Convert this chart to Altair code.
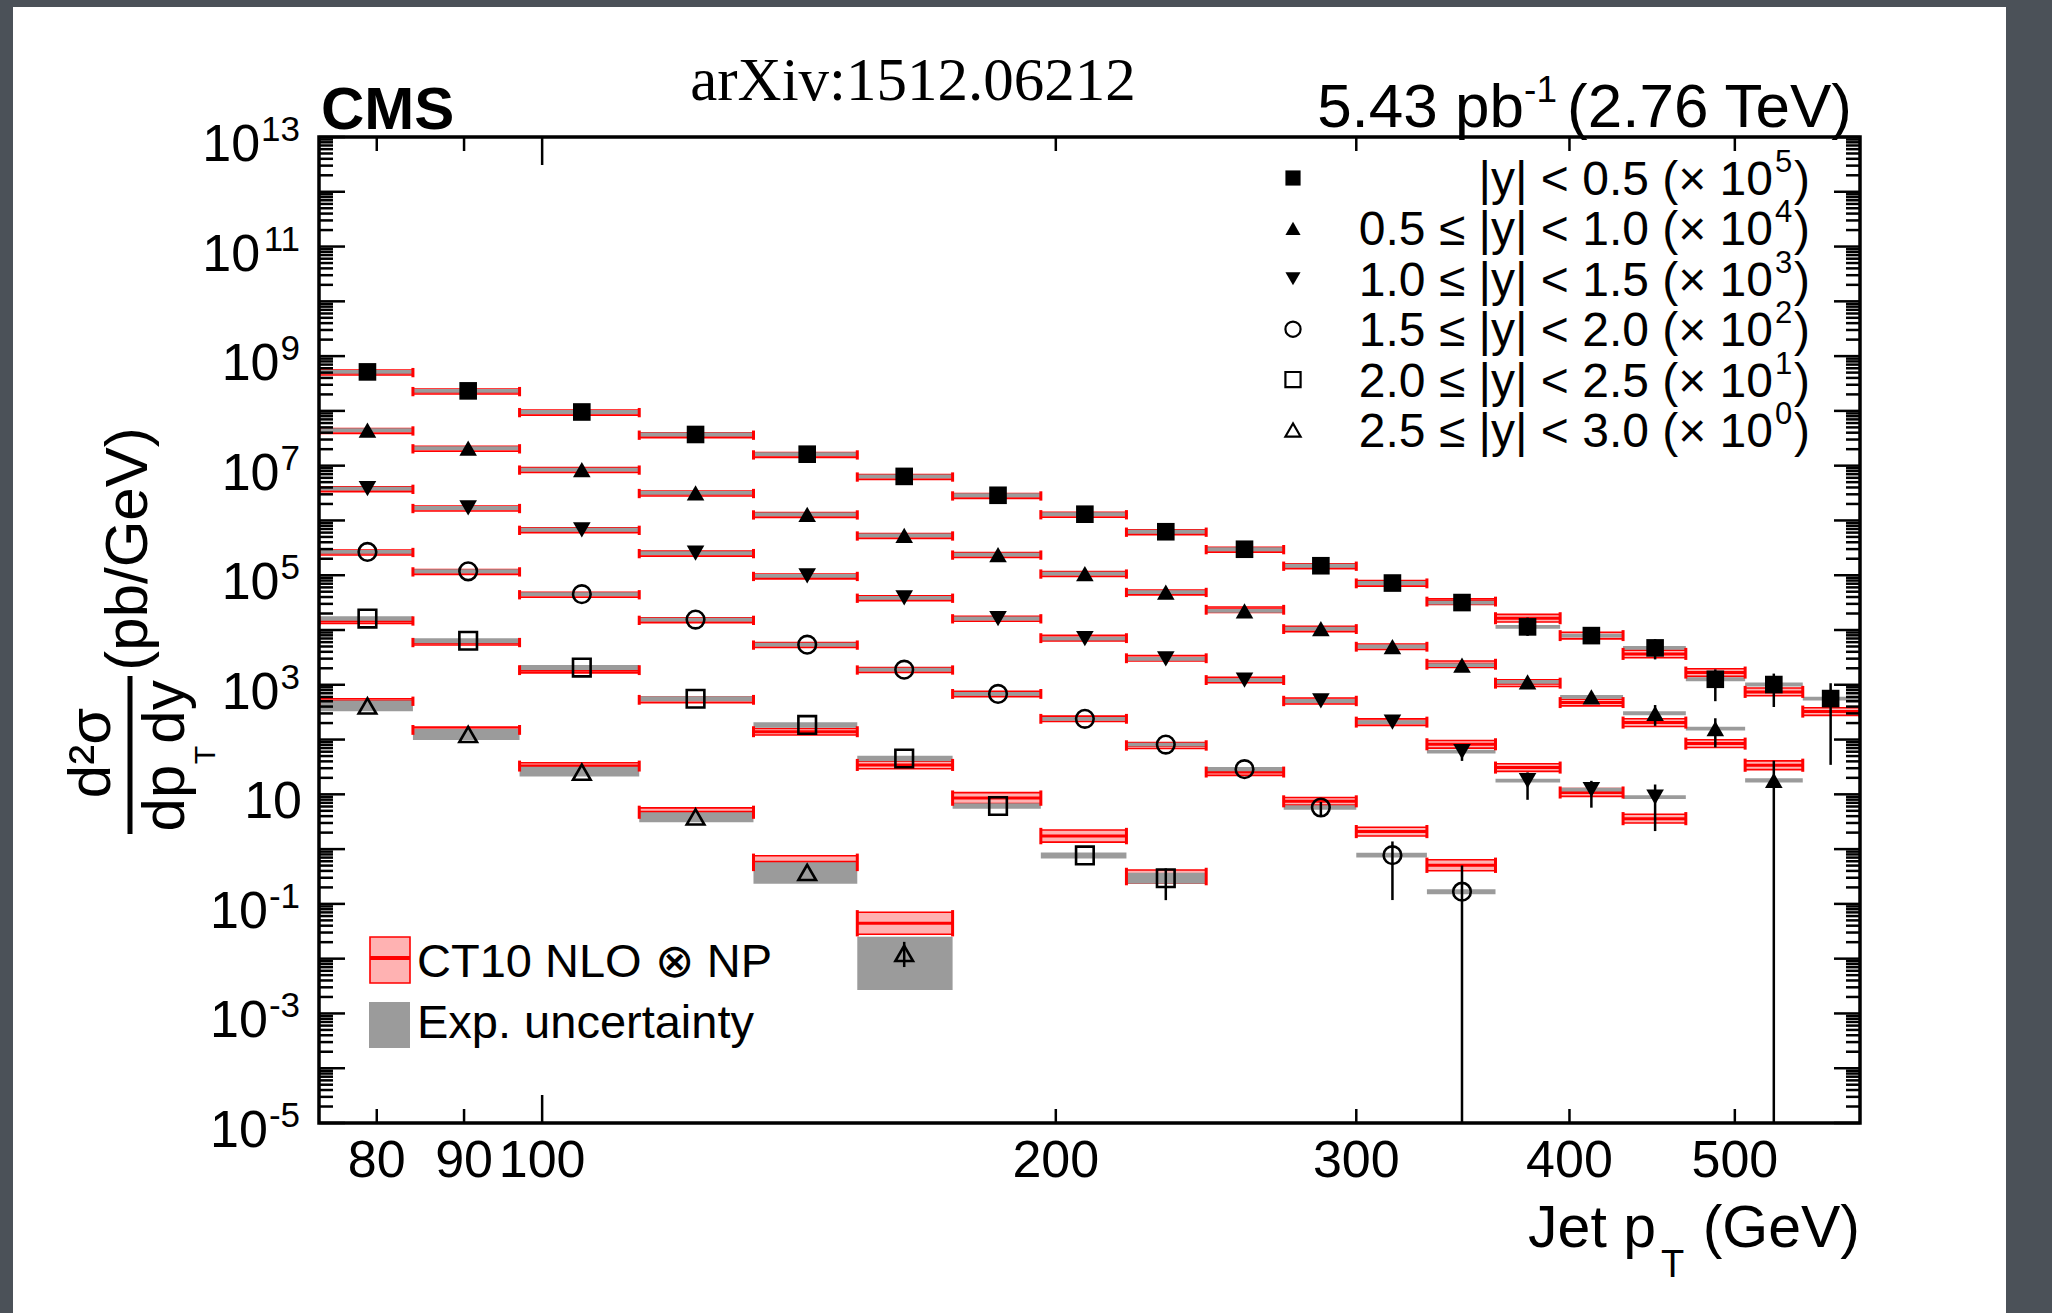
import altair as alt
import pandas as pd

# ---------------- data ----------------
EDGES = [74, 84, 97, 114, 133, 153, 174, 196, 220, 245, 272, 300, 330, 362, 395, 430, 468, 507, 548, 592]
CENTERS = [79, 90.5, 105.5, 123, 143, 163, 185, 208, 232, 258, 286, 315, 346, 378, 412, 449, 487, 527, 569]

LEG_TEXT = ["|y| < 0.5 (× 10", "0.5 ≤ |y| < 1.0 (× 10", "1.0 ≤ |y| < 1.5 (× 10",
            "1.5 ≤ |y| < 2.0 (× 10", "2.0 ≤ |y| < 2.5 (× 10", "2.5 ≤ |y| < 3.0 (× 10"]
LEG_EXP = ["5", "4", "3", "2", "1", "0"]
SHAPES = ["square", "triangle-up", "triangle-down", "circle", "square", "triangle-up"]
FILLED = [True, True, True, False, False, False]

N = None
VALUES = [
    [5.15e8, 2.32e8, 9.55e7, 3.71e7, 1.62e7, 6.37e6, 2.88e6, 1.30e6, 6.22e5, 2.98e5, 1.49e5, 7.2e4, 3.17e4, 1.14e4, 7.9e3, 4.71e3, 1.26e3, 1.01e3, 560],
    [4.44e7, 2.09e7, 8.47e6, 3.18e6, 1.29e6, 5.35e5, 2.38e5, 1.07e5, 4.92e4, 2.24e4, 1.06e4, 4.99e3, 2.28e3, 1.13e3, 603, 302, 158, 18.0, N],
    [3.82e6, 1.69e6, 6.76e5, 2.54e5, 9.7e4, 3.87e4, 1.62e4, 6.98e3, 2.97e3, 1.22e3, 506, 208, 60.3, 17.8, 12.2, 8.9, N, N, N],
    [2.66e5, 1.18e5, 4.51e4, 1.55e4, 5.4e3, 1.89e3, 682, 239, 80.9, 28.8, 5.75, 0.776, 0.167, N, N, N, N, N, N],
    [1.62e4, 6.37e3, 2.06e3, 556, 185, 45.1, 6.12, 0.767, 0.294, N, N, N, N, N, N, N, N, N, N],
    [411, 124, 25.4, 3.87, 0.376, 0.0125, N, N, N, N, N, N, N, N, N, N, N, N, N],
]
THEORY = [
    [5.0e8, 2.25e8, 9.3e7, 3.6e7, 1.57e7, 6.2e6, 2.8e6, 1.27e6, 6.1e5, 2.93e5, 1.46e5, 7.1e4, 3.3e4, 1.64e4, 7.9e3, 3.66e3, 1.67e3, 741, 324],
    [4.3e7, 2.03e7, 8.3e6, 3.1e6, 1.26e6, 5.2e5, 2.33e5, 1.05e5, 4.85e4, 2.34e4, 1.04e4, 4.95e3, 2.37e3, 1.07e3, 473, 204, 84.3, 34, N],
    [3.7e6, 1.65e6, 6.6e5, 2.48e5, 9.5e4, 3.8e4, 1.6e4, 7.1e3, 3.05e3, 1.22e3, 506, 208, 82, 30.8, 10.8, 3.6, N, N, N],
    [2.6e5, 1.15e5, 4.4e4, 1.5e4, 5.3e3, 1.86e3, 680, 239, 78, 25.5, 7.45, 2.09, 0.507, N, N, N, N, N, N],
    [1.46e4, 5.9e3, 1.85e3, 531, 139, 34.4, 8.53, 1.73, 0.316, N, N, N, N, N, N, N, N, N, N],
    [500, 150, 32.8, 4.71, 0.573, 0.0443, N, N, N, N, N, N, N, N, N, N, N, N, N],
]
# experimental uncertainty band, in decades above / below the data point
EXP_UP = [
    [0.035, 0.035, 0.035, 0.035, 0.035, 0.035, 0.035, 0.035, 0.035, 0.035, 0.035, 0.035, 0.035, 0.035, 0.035, 0.035, 0.035, 0.035, 0.035],
    [0.035, 0.035, 0.035, 0.035, 0.035, 0.035, 0.035, 0.035, 0.035, 0.035, 0.035, 0.035, 0.035, 0.035, 0.035, 0.035, 0.035, 0.04, N],
    [0.035, 0.035, 0.035, 0.035, 0.035, 0.035, 0.035, 0.035, 0.035, 0.035, 0.035, 0.035, 0.035, 0.035, 0.035, 0.035, N, N, N],
    [0.035, 0.035, 0.035, 0.035, 0.035, 0.035, 0.035, 0.035, 0.035, 0.04, 0.04, 0.045, 0.045, N, N, N, N, N, N],
    [0.04, 0.045, 0.045, 0.045, 0.05, 0.05, 0.05, 0.055, 0.1, N, N, N, N, N, N, N, N, N, N],
    [0.098, 0.098, 0.098, 0.085, 0.183, 0.304, N, N, N, N, N, N, N, N, N, N, N, N, N],
]
EXP_DN = [
    [0.035, 0.035, 0.035, 0.035, 0.035, 0.035, 0.035, 0.035, 0.035, 0.035, 0.035, 0.035, 0.035, 0.035, 0.035, 0.035, 0.035, 0.035, 0.035],
    [0.035, 0.035, 0.035, 0.035, 0.035, 0.035, 0.035, 0.035, 0.035, 0.035, 0.035, 0.035, 0.035, 0.035, 0.035, 0.035, 0.035, 0.04, N],
    [0.035, 0.035, 0.035, 0.035, 0.035, 0.035, 0.035, 0.035, 0.035, 0.035, 0.035, 0.035, 0.035, 0.035, 0.035, 0.035, N, N, N],
    [0.035, 0.035, 0.035, 0.035, 0.035, 0.035, 0.035, 0.035, 0.035, 0.04, 0.04, 0.045, 0.045, N, N, N, N, N, N],
    [0.04, 0.045, 0.045, 0.045, 0.05, 0.05, 0.05, 0.055, 0.1, N, N, N, N, N, N, N, N, N, N],
    [0.098, 0.102, 0.078, 0.098, 0.209, 0.669, N, N, N, N, N, N, N, N, N, N, N, N, N],
]
# theory (CT10 NLO x NP) band half width, in decades
TH_HW = [
    [0.045, 0.045, 0.045, 0.045, 0.045, 0.045, 0.045, 0.045, 0.045, 0.045, 0.045, 0.05, 0.05, 0.07, 0.06, 0.07, 0.07, 0.07, 0.07],
    [0.045, 0.045, 0.045, 0.045, 0.045, 0.045, 0.045, 0.045, 0.045, 0.05, 0.05, 0.05, 0.06, 0.06, 0.06, 0.07, 0.07, 0.08, N],
    [0.045, 0.045, 0.045, 0.045, 0.045, 0.045, 0.045, 0.05, 0.05, 0.05, 0.055, 0.06, 0.07, 0.07, 0.07, 0.08, N, N, N],
    [0.045, 0.045, 0.045, 0.045, 0.045, 0.045, 0.05, 0.05, 0.055, 0.06, 0.07, 0.08, 0.1, N, N, N, N, N, N],
    [0.045, 0.045, 0.05, 0.05, 0.06, 0.07, 0.1, 0.11, 0.12, N, N, N, N, N, N, N, N, N, N],
    [0.045, 0.05, 0.06, 0.08, 0.12, 0.2, N, N, N, N, N, N, N, N, N, N, N, N, N],
]
# statistical error bars, in decades above / below the point
STAT_UP = [
    [0, 0, 0, 0, 0, 0, 0, 0, 0, 0, 0, 0, 0, 0.17, 0.1, 0.16, 0.18, 0.2, 0.28],
    [0, 0, 0, 0, 0, 0, 0, 0, 0, 0, 0, 0, 0, 0, 0, 0.15, 0.19, 0.36, N],
    [0, 0, 0, 0, 0, 0, 0, 0, 0, 0, 0, 0, 0.12, 0.15, 0.16, 0.23, N, N, N],
    [0, 0, 0, 0, 0, 0, 0, 0, 0, 0, 0.1, 0.25, 0.48, N, N, N, N, N, N],
    [0, 0, 0, 0, 0, 0, 0, 0, 0.18, N, N, N, N, N, N, N, N, N, N],
    [0, 0, 0, 0, 0, 0.21, N, N, N, N, N, N, N, N, N, N, N, N, N],
]
STAT_DN = [
    [0, 0, 0, 0, 0, 0, 0, 0, 0, 0, 0, 0, 0, 0.165, 0.1, 0.21, 0.4, 0.41, 1.21],
    [0, 0, 0, 0, 0, 0, 0, 0, 0, 0, 0, 0, 0, 0, 0, 0.23, 0.34, 9, N],
    [0, 0, 0, 0, 0, 0, 0, 0, 0, 0, 0, 0, 0.17, 0.35, 0.33, 0.62, N, N, N],
    [0, 0, 0, 0, 0, 0, 0, 0, 0, 0, 0.15, 0.82, 9, N, N, N, N, N, N],
    [0, 0, 0, 0, 0, 0, 0, 0, 0.4, N, N, N, N, N, N, N, N, N, N],
    [0, 0, 0, 0, 0, 0.25, N, N, N, N, N, N, N, N, N, N, N, N, N],
]

X_TICK_LABELS = [80, 90, 100, 200, 300, 400, 500]
X_MAJOR = [100]
X_MINOR = [80, 90, 200, 300, 400, 500]
Y_LABEL_VALUES = [1e13, 1e11, 1e9, 1e7, 1e5, 1e3, 1e1, 1e-1, 1e-3, 1e-5]
Y_LABEL_EXPS = ["13", "11", "9", "7", "5", "3", "", "-1", "-3", "-5"]
Y_MAJOR = [10.0 ** d for d in range(-5, 14)]
Y_MINOR = [k * 10.0 ** d for d in range(-5, 13) for k in range(2, 10)]

# ---------------- layout ----------------
W, H = 1541, 986
FONT = "Liberation Sans"
RED = "#ff0000"
GRAY = "#9b9b9b"
ONE = pd.DataFrame({"a": [0]})

rows = []
for s in range(6):
    for b in range(19):
        v = VALUES[s][b]
        if v is None:
            continue
        t = THEORY[s][b]
        hw = TH_HW[s][b]
        su, sd = STAT_UP[s][b], STAT_DN[s][b]
        rows.append(dict(
            s=s, lo=EDGES[b], hi=EDGES[b + 1], c=CENTERS[b], val=v, theo=t,
            th_lo=t / 10 ** hw, th_hi=t * 10 ** hw,
            cap_lo=t / 10 ** (hw + 0.04), cap_hi=t * 10 ** (hw + 0.04),
            ex_lo=v / 10 ** EXP_DN[s][b], ex_hi=v * 10 ** EXP_UP[s][b],
            st_lo=v / 10 ** sd, st_hi=v * 10 ** su, stat=(su > 0 or sd > 0)))
df = pd.DataFrame(rows)

xs = alt.Scale(type="log", domain=[74, 592], nice=False)
ys = alt.Scale(type="log", domain=[1e-5, 1e13], nice=False)


def X(f):
    return alt.X(f, type="quantitative", scale=xs, axis=None)


def Y(f):
    return alt.Y(f, type="quantitative", scale=ys, axis=None)


def txt(t, x, y, size, align="left", baseline="alphabetic", font=FONT, weight="normal", angle=0):
    return alt.Chart(ONE).mark_text(text=t, fontSize=size, align=align, baseline=baseline,
                                    font=font, fontWeight=weight, angle=angle, color="black").encode(
        x=alt.value(x), y=alt.value(y))


layers = []
# white page on dark slide
layers.append(alt.Chart(ONE).mark_rect(color="white").encode(
    x=alt.value(-306), x2=alt.value(1687), y=alt.value(-130), y2=alt.value(1200)))

base = alt.Chart(df)
layers.append(base.mark_rect(fill=RED, fillOpacity=0.3, stroke=RED, strokeWidth=1.6, clip=True).encode(
    x=X("lo"), x2="hi", y=Y("th_lo"), y2="th_hi"))
layers.append(base.mark_rule(color=RED, strokeWidth=3, clip=True).encode(x=X("lo"), x2="hi", y=Y("theo")))
layers.append(base.mark_rect(color=GRAY, clip=True).encode(x=X("lo"), x2="hi", y=Y("ex_lo"), y2="ex_hi"))
layers.append(base.mark_rule(color=RED, strokeWidth=3, clip=True).encode(x=X("lo"), y=Y("cap_lo"), y2="cap_hi"))
layers.append(base.mark_rule(color=RED, strokeWidth=3, clip=True).encode(x=X("hi"), y=Y("cap_lo"), y2="cap_hi"))
layers.append(alt.Chart(df[df.stat]).mark_rule(color="black", strokeWidth=2.5, clip=True).encode(
    x=X("c"), y=Y("st_lo"), y2="st_hi"))

for s in range(6):
    kw = dict(shape=SHAPES[s], filled=FILLED[s], color="black", size=310, opacity=1, clip=True)
    if not FILLED[s]:
        kw["strokeWidth"] = 2.6
    layers.append(alt.Chart(df[df.s == s]).mark_point(**kw).encode(x=X("c"), y=Y("val")))

# ticks (ROOT style, on all four sides, pointing inward)
ymaj = pd.DataFrame({"v": Y_MAJOR})
ymin = pd.DataFrame({"v": Y_MINOR})
xmaj = pd.DataFrame({"v": X_MAJOR})
xmin = pd.DataFrame({"v": X_MINOR})
for d, ln in ((ymaj, 26), (ymin, 14)):
    layers.append(alt.Chart(d).mark_rule(color="black", strokeWidth=2.5).encode(
        y=Y("v"), x=alt.value(0), x2=alt.value(ln)))
    layers.append(alt.Chart(d).mark_rule(color="black", strokeWidth=2.5).encode(
        y=Y("v"), x=alt.value(W - ln), x2=alt.value(W)))
for d, ln in ((xmaj, 28), (xmin, 14)):
    layers.append(alt.Chart(d).mark_rule(color="black", strokeWidth=2.5).encode(
        x=X("v"), y=alt.value(H - ln), y2=alt.value(H)))
    layers.append(alt.Chart(d).mark_rule(color="black", strokeWidth=2.5).encode(
        x=X("v"), y=alt.value(0), y2=alt.value(ln)))

# frame
layers.append(alt.Chart(ONE).mark_rect(fillOpacity=0, stroke="black", strokeWidth=3.5).encode(
    x=alt.value(0), x2=alt.value(W), y=alt.value(0), y2=alt.value(H)))

# x tick labels
layers.append(alt.Chart(pd.DataFrame({"v": X_TICK_LABELS})).mark_text(
    fontSize=52, font=FONT, align="center", baseline="alphabetic", color="black").encode(
    x=X("v"), y=alt.value(1040), text=alt.Text("v:Q", format="d")))

# y tick labels: "10" with superscript exponent
EXP_FS = 35
ylab = pd.DataFrame({"v": Y_LABEL_VALUES, "e": Y_LABEL_EXPS})


def adv(e):
    return sum(0.556 if ch.isdigit() else 0.333 for ch in e) * EXP_FS


ylab["bx"] = [(-17 if e == "" else -19 - adv(e) - 1) for e in Y_LABEL_EXPS]
for bx in sorted(set(ylab["bx"])):
    sub = ylab[ylab.bx == bx]
    layers.append(alt.Chart(sub).mark_text(text="10", fontSize=52, font=FONT, align="right",
                                           baseline="middle", dy=8, color="black").encode(
        x=alt.value(bx), y=Y("v")))
layers.append(alt.Chart(ylab[ylab.e != ""]).mark_text(fontSize=EXP_FS, font=FONT, align="right",
                                                      baseline="middle", dy=-7, color="black").encode(
    x=alt.value(-19), y=Y("v"), text="e:N"))

# y axis title (rotated fraction)
layers.append(txt("d²σ", -209, 616, 60, align="center", angle=270))
layers.append(alt.Chart(ONE).mark_rule(color="black", strokeWidth=5).encode(
    x=alt.value(-189), y=alt.value(539), y2=alt.value(697)))
layers.append(txt("dp", -135, 661, 60, align="center", angle=270))
layers.append(txt("T", -104, 618, 30, align="center", angle=270))
layers.append(txt("dy", -135, 575, 60, align="center", angle=270))
layers.append(txt("(pb/GeV)", -172, 412, 60, align="center", angle=270))

# x axis title
layers.append(txt("Jet p", 1337, 1110, 59, align="right"))
layers.append(txt("T", 1342, 1140, 38))
layers.append(txt("(GeV)", 1541, 1110, 59, align="right"))

# header texts
layers.append(txt("CMS", 2, -8, 60, weight="bold"))
layers.append(txt("arXiv:1512.06212", 594, -37, 61, align="center", font="Liberation Serif"))
layers.append(txt("(2.76 TeV)", 1533, -10, 62, align="right"))
layers.append(txt("-1", 1238, -35, 37, align="right"))
layers.append(txt("5.43 pb", 1205, -10, 62, align="right"))

# top-right legend
ROW_Y = [41, 91.4, 141.8, 192.2, 242.6, 293]
for s in range(6):
    ry = ROW_Y[s]
    kw = dict(shape=SHAPES[s], filled=FILLED[s], color="black", size=230, opacity=1)
    if not FILLED[s]:
        kw["strokeWidth"] = 2.2
    layers.append(alt.Chart(ONE).mark_point(**kw).encode(x=alt.value(974), y=alt.value(ry)))
    layers.append(txt(LEG_TEXT[s], 1454, ry + 17, 48, align="right"))
    layers.append(txt(LEG_EXP[s], 1456, ry - 6, 31))
    layers.append(txt(")", 1475, ry + 17, 48))

# bottom-left legend
layers.append(alt.Chart(ONE).mark_rect(fill=RED, fillOpacity=0.3, stroke=RED, strokeWidth=1.6).encode(
    x=alt.value(51), x2=alt.value(91), y=alt.value(800), y2=alt.value(846)))
layers.append(alt.Chart(ONE).mark_rule(color=RED, strokeWidth=4).encode(
    x=alt.value(51), x2=alt.value(91), y=alt.value(821)))
layers.append(txt("CT10 NLO ⊗ NP", 98, 840, 47))
layers.append(alt.Chart(ONE).mark_rect(color=GRAY).encode(
    x=alt.value(50), x2=alt.value(91), y=alt.value(865), y2=alt.value(911)))
layers.append(txt("Exp. uncertainty", 98, 901, 47))

chart = alt.layer(*layers).properties(
    width=W, height=H,
    padding={"left": 319, "top": 137, "right": 192, "bottom": 190},
    autosize=alt.AutoSizeParams(type="none"),
    background="#4b5158",
).configure_view(stroke=None)

chart.save("out.html", embed_options={"renderer": "svg", "actions": False})
